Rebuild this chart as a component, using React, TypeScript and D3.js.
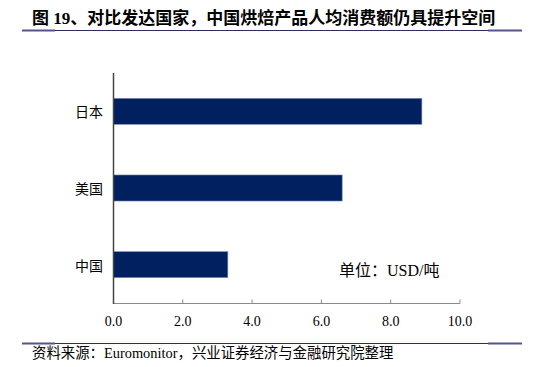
import React from "react";
import * as d3 from "d3";

const categories = ["日本", "美国", "中国"];
const values = [8.9, 6.6, 3.3];
const xTicks = [0, 2, 4, 6, 8, 10];
const title = "图 19、对比发达国家，中国烘焙产品人均消费额仍具提升空间";
const source = "资料来源：Euromonitor，兴业证券经济与金融研究院整理";
const unitLabel = "单位：USD/吨";

const W = 533;
const H = 367;
const FONT = "'Liberation Serif', 'Times New Roman', 'Noto Sans CJK SC', serif";
const CJK = "'Noto Sans CJK SC', sans-serif";

export default function App() {
  const x = d3.scaleLinear().domain([0, 10]).range([113.5, 460]);
  const y = d3.scaleBand().domain(categories).range([73, 303]).paddingInner(0.66).paddingOuter(0.33);

  return (
    <svg width={W} height={H} style={{ position: "absolute", left: 0, top: 0, background: "#fff" }}>
      {/* title */}
      <text x={32} y={24} fontFamily={FONT} fontSize={17} fontWeight="bold" fill="#000">{title}</text>
      <line x1={22} x2={522} y1={30.5} y2={30.5} stroke="#2e2e5e" strokeWidth={1} />
      <line x1={22} x2={55} y1={30.5} y2={30.5} stroke="#55558a" strokeWidth={2} />
      <line x1={488} x2={522} y1={30.5} y2={30.5} stroke="#55558a" strokeWidth={2} />

      {/* bars */}
      {categories.map((c, i) => (
        <rect key={c} x={x(0)} y={y(c)} width={x(values[i]) - x(0)} height={y.bandwidth()}
          fill="#002060" stroke="#7f93bf" strokeWidth={0.6} />
      ))}

      {/* x axis */}
      <line x1={x(0)} x2={x(10)} y1={303.5} y2={303.5} stroke="#8a8a8a" strokeWidth={1.2} />
      {xTicks.map((t) => (
        <g key={t}>
          <line x1={x(t)} x2={x(t)} y1={299.5} y2={303.5} stroke="#8a8a8a" strokeWidth={1} />
          <text x={x(t)} y={326} textAnchor="middle" fontFamily={FONT} fontSize={14} fill="#000">{t.toFixed(1)}</text>
        </g>
      ))}
      {/* y axis */}
      <line x1={113.5} x2={113.5} y1={73} y2={304} stroke="#444" strokeWidth={1.5} />
      {categories.map((c) => (
        <text key={c} x={103} y={y(c)! + y.bandwidth() / 2} dominantBaseline="central" textAnchor="end"
          fontFamily={CJK} fontSize={14} fill="#000">{c}</text>
      ))}

      <text x={339} y={270} dominantBaseline="central" fontFamily={FONT} fontSize={16} fill="#000">{unitLabel}</text>

      {/* footer */}
      <line x1={22} x2={522} y1={343.5} y2={343.5} stroke="#2e2e5e" strokeWidth={1} />
      <line x1={22} x2={55} y1={343.5} y2={343.5} stroke="#55558a" strokeWidth={2} />
      <line x1={488} x2={522} y1={343.5} y2={343.5} stroke="#55558a" strokeWidth={2} />
      <text x={32} y={358} fontFamily={FONT} fontSize={14.4} fill="#000">{source}</text>
    </svg>
  );
}
